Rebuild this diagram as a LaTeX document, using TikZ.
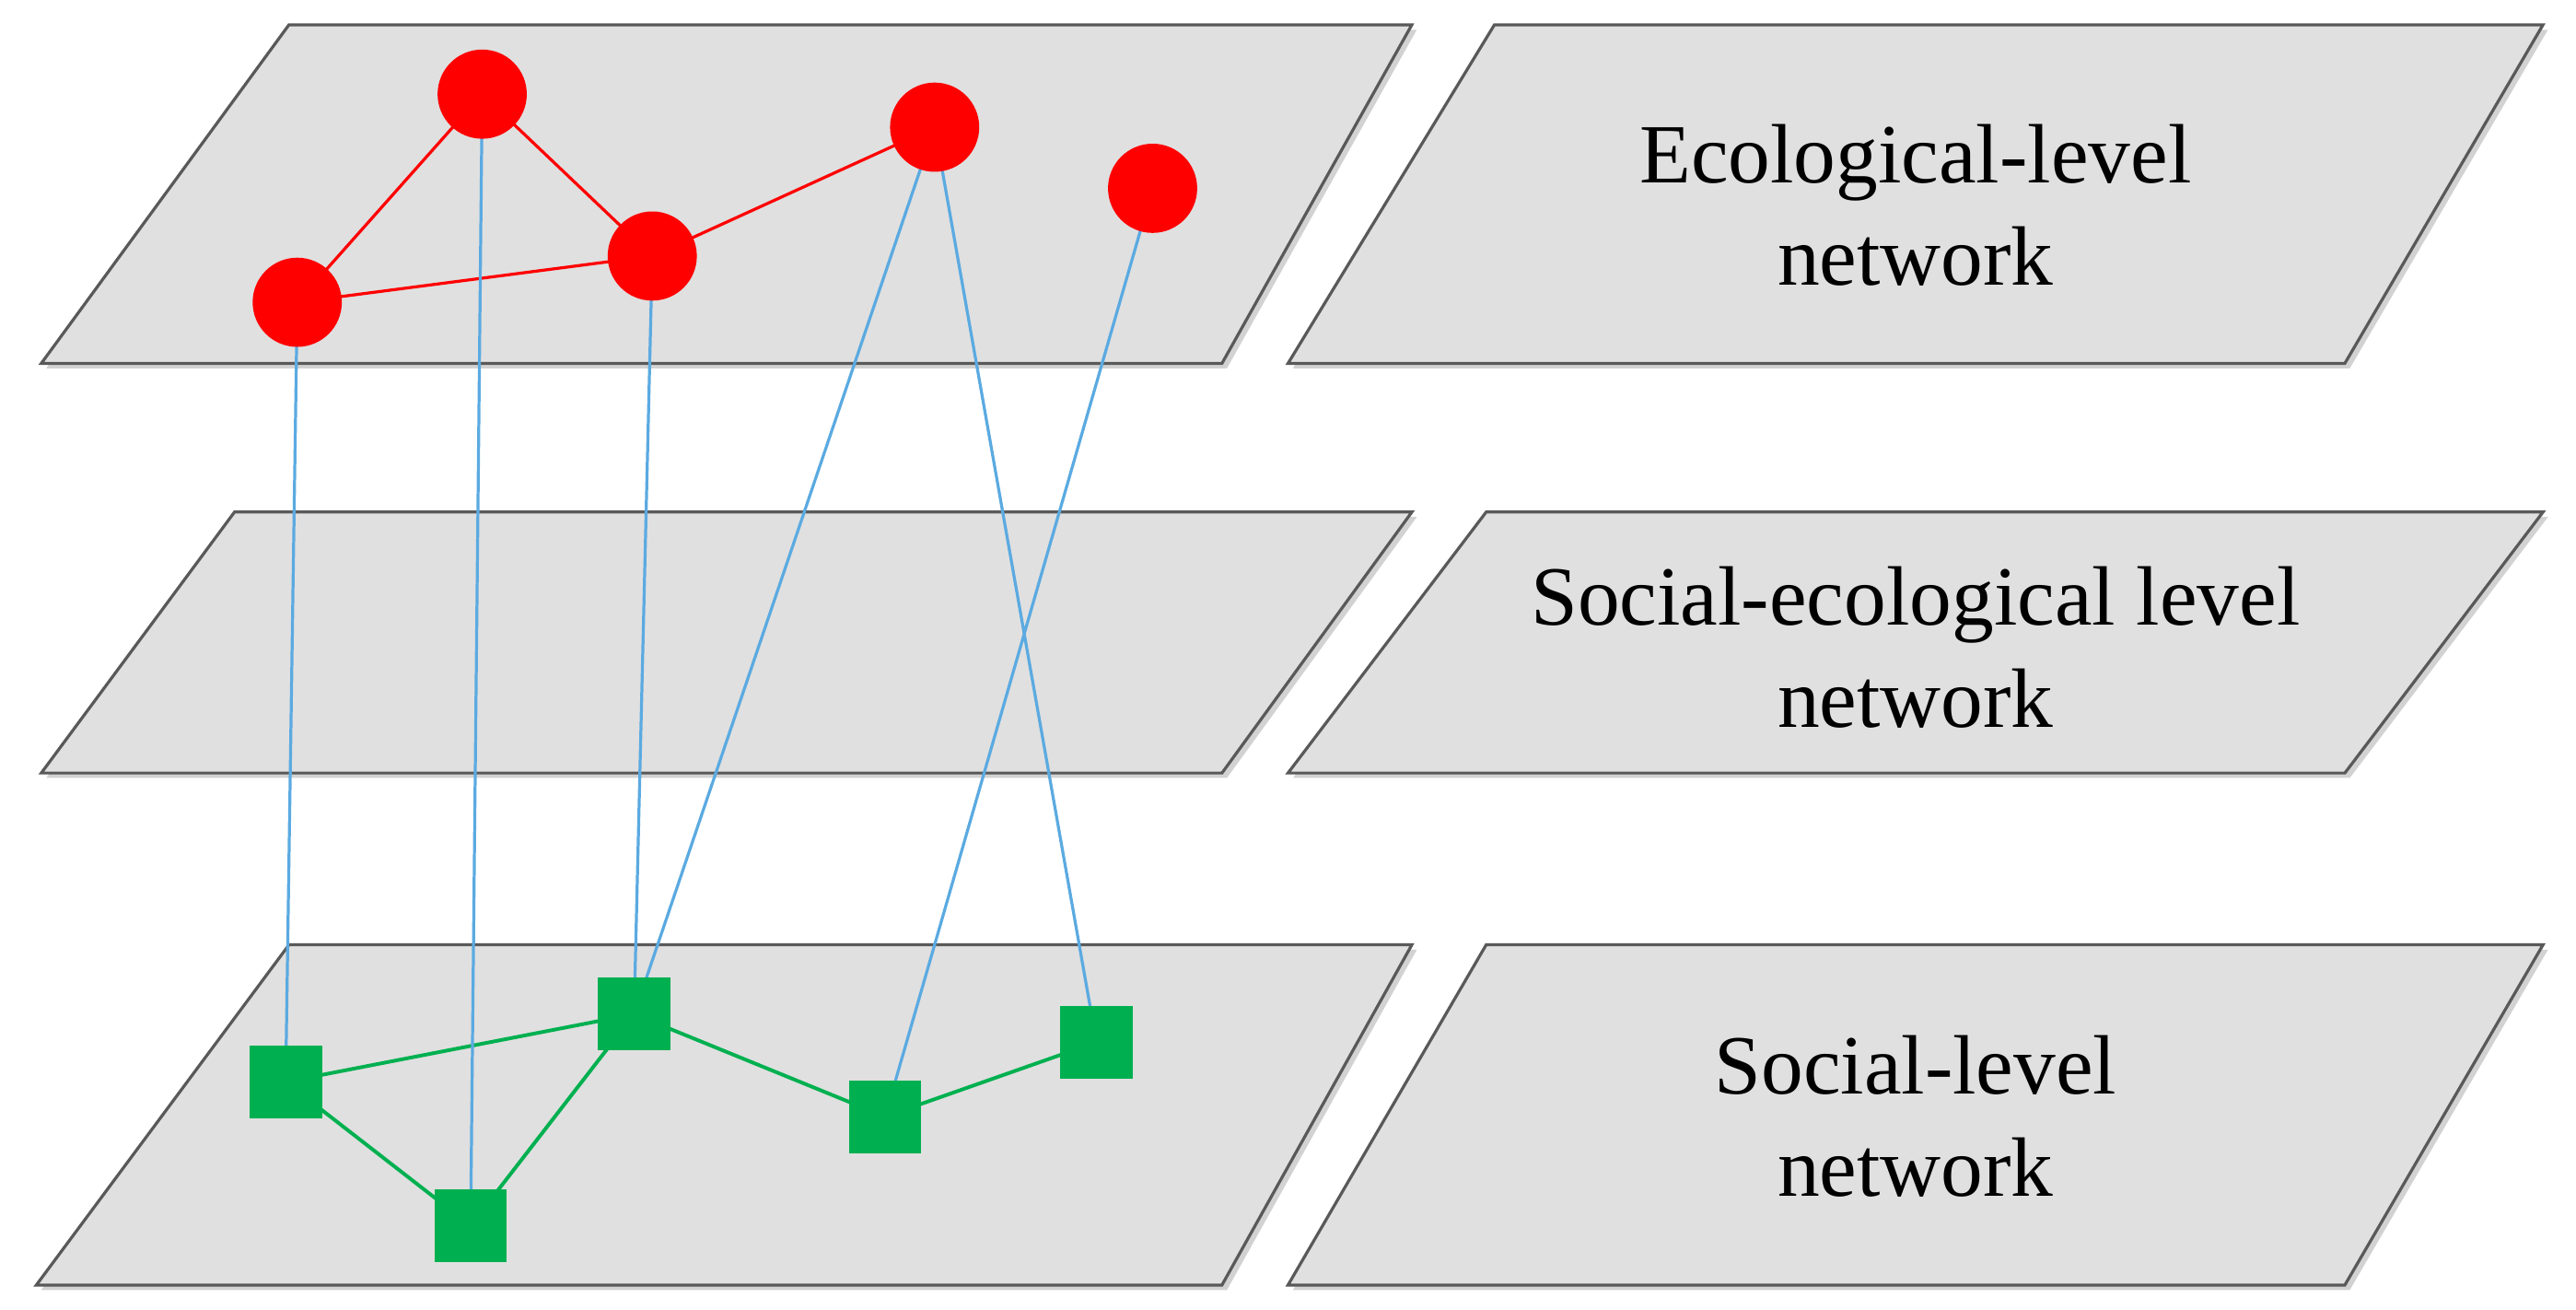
\documentclass[tikz,border=0pt]{standalone}
\usepackage{fontspec}
\setmainfont{Liberation Serif}
\usetikzlibrary{shadows}
\definecolor{gr}{RGB}{0,176,80}
\definecolor{bl}{RGB}{91,170,225}
\begin{document}
\begin{tikzpicture}[x=1pt,y=-1pt,
  plane/.style={fill=black!12,draw=black!65,line width=1.8pt,drop shadow={shadow xshift=3pt,shadow yshift=-3pt,fill=black!35}},
  rnode/.style={circle,fill=red,inner sep=0pt,minimum size=54pt},
  gnode/.style={rectangle,fill=gr,inner sep=0pt,minimum size=44pt},
  redge/.style={red,line width=1.8pt},
  gedge/.style={gr,line width=2.2pt},
  bedge/.style={bl,line width=1.8pt},
  lbl/.style={align=center,font=\fontsize{51}{62}\selectfont}]
\useasboundingbox (0,0) rectangle (1560,793);
\draw[plane] (25,220)--(740,220)--(855,15)--(175,15)--cycle;
\draw[plane] (780,220)--(1420,220)--(1540,15)--(905,15)--cycle;
\draw[plane] (25,468)--(740,468)--(855,310)--(142,310)--cycle;
\draw[plane] (780,468)--(1420,468)--(1540,310)--(900,310)--cycle;
\draw[plane] (22,778)--(740,778)--(855,572)--(175,572)--cycle;
\draw[plane] (780,778)--(1420,778)--(1540,572)--(900,572)--cycle;
\node[lbl] (t1) at (1160,124) {Ecological-level\\network};
\node[lbl] (t2) at (1160,392) {Social-ecological level\\network};
\node[lbl] (t3) at (1160,676) {Social-level\\network};
\coordinate (A) at (180,183);
\coordinate (B) at (292,57);
\coordinate (C) at (395,155);
\coordinate (D) at (566,77);
\coordinate (E) at (698,114);
\coordinate (a) at (173,655);
\coordinate (b) at (285,742);
\coordinate (c) at (384,614);
\coordinate (d) at (536,676);
\coordinate (e) at (664,631);
\draw[redge] (A)--(B) (B)--(C) (A)--(C) (C)--(D);
\draw[gedge] (a)--(c) (a)--(b) (b)--(c) (c)--(d) (d)--(e);
\draw[bedge] (A)--(a) (B)--(b) (C)--(c) (D)--(c) (D)--(e) (E)--(d);
\foreach \n in {A,B,C,D,E}{\node[rnode] at (\n) {};}
\foreach \n in {a,b,c,d,e}{\node[gnode] at (\n) {};}
\end{tikzpicture}
\end{document}
